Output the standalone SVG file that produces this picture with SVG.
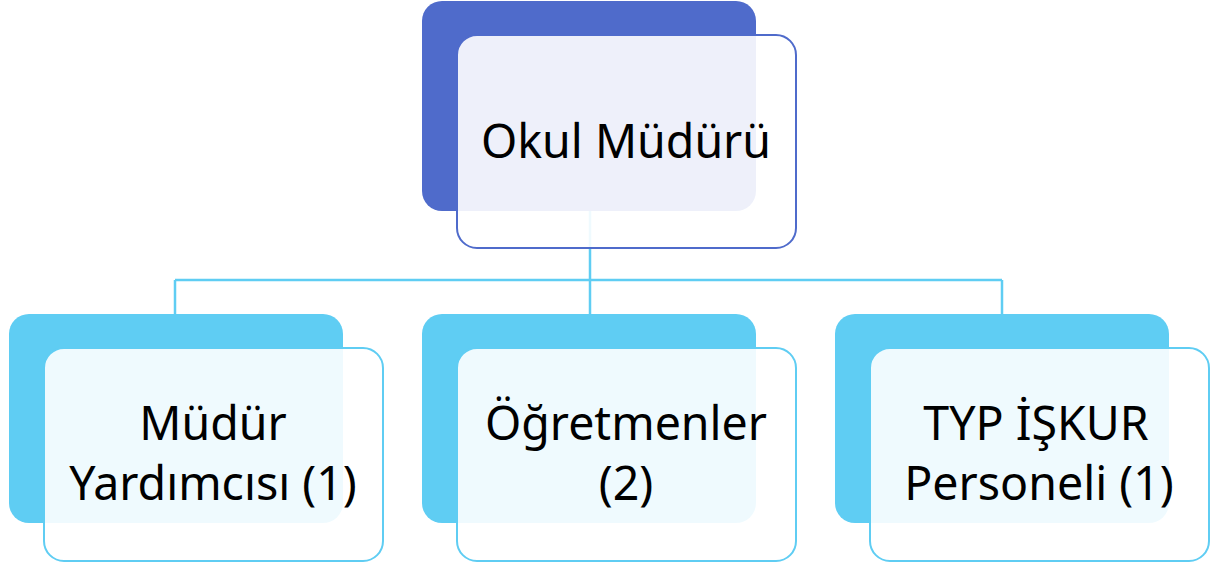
<svg xmlns="http://www.w3.org/2000/svg" width="1214" height="566" viewBox="0 0 1214 566">
<style>
.bgw{fill:#ffffff}
.backT{fill:#4f6bcb}
.frontT{fill:#ffffff;fill-opacity:0.9;stroke:#4f6bcb;stroke-width:2}
.backB{fill:#5fcdf3}
.frontB{fill:#ffffff;fill-opacity:0.9;stroke:#5fcdf3;stroke-width:2}
.conn{fill:none;stroke:#5fcdf3;stroke-width:2.5}
.t{font-family:"Noto Sans","Open Sans",sans-serif;font-size:46.5px;fill:#000;text-anchor:middle}
</style>
<rect class="bgw" x="0" y="0" width="1214" height="566"/>
<g id="connectors">
<path class="conn" d="M590 211 V280 M175 280 H1002 M175 280 V314 M590 280 V314 M1002 280 V314"/>
</g>
<g id="okul-muduru">
<rect class="backT" x="422" y="1" width="334" height="210" rx="20"/>
<rect class="frontT" x="457" y="35" width="339" height="213" rx="20"/>
<text class="t" x="626" y="158">Okul Müdürü</text>
</g>
<g id="mudur-yardimcisi">
<rect class="backB" x="9" y="314" width="334" height="209" rx="20"/>
<rect class="frontB" x="44" y="348" width="339" height="213" rx="20"/>
<text class="t" x="213" y="440">Müdür</text>
<text class="t" x="213" y="500">Yardımcısı (1)</text>
</g>
<g id="ogretmenler">
<rect class="backB" x="422" y="314" width="334" height="209" rx="20"/>
<rect class="frontB" x="457" y="348" width="339" height="213" rx="20"/>
<text class="t" x="626" y="440">Öğretmenler</text>
<text class="t" x="626" y="500">(2)</text>
</g>
<g id="typ-iskur">
<rect class="backB" x="835" y="314" width="334" height="209" rx="20"/>
<rect class="frontB" x="870" y="348" width="339" height="213" rx="20"/>
<text class="t" x="1036" y="440">TYP İŞKUR</text>
<text class="t" x="1039" y="500">Personeli (1)</text>
</g>
</svg>
